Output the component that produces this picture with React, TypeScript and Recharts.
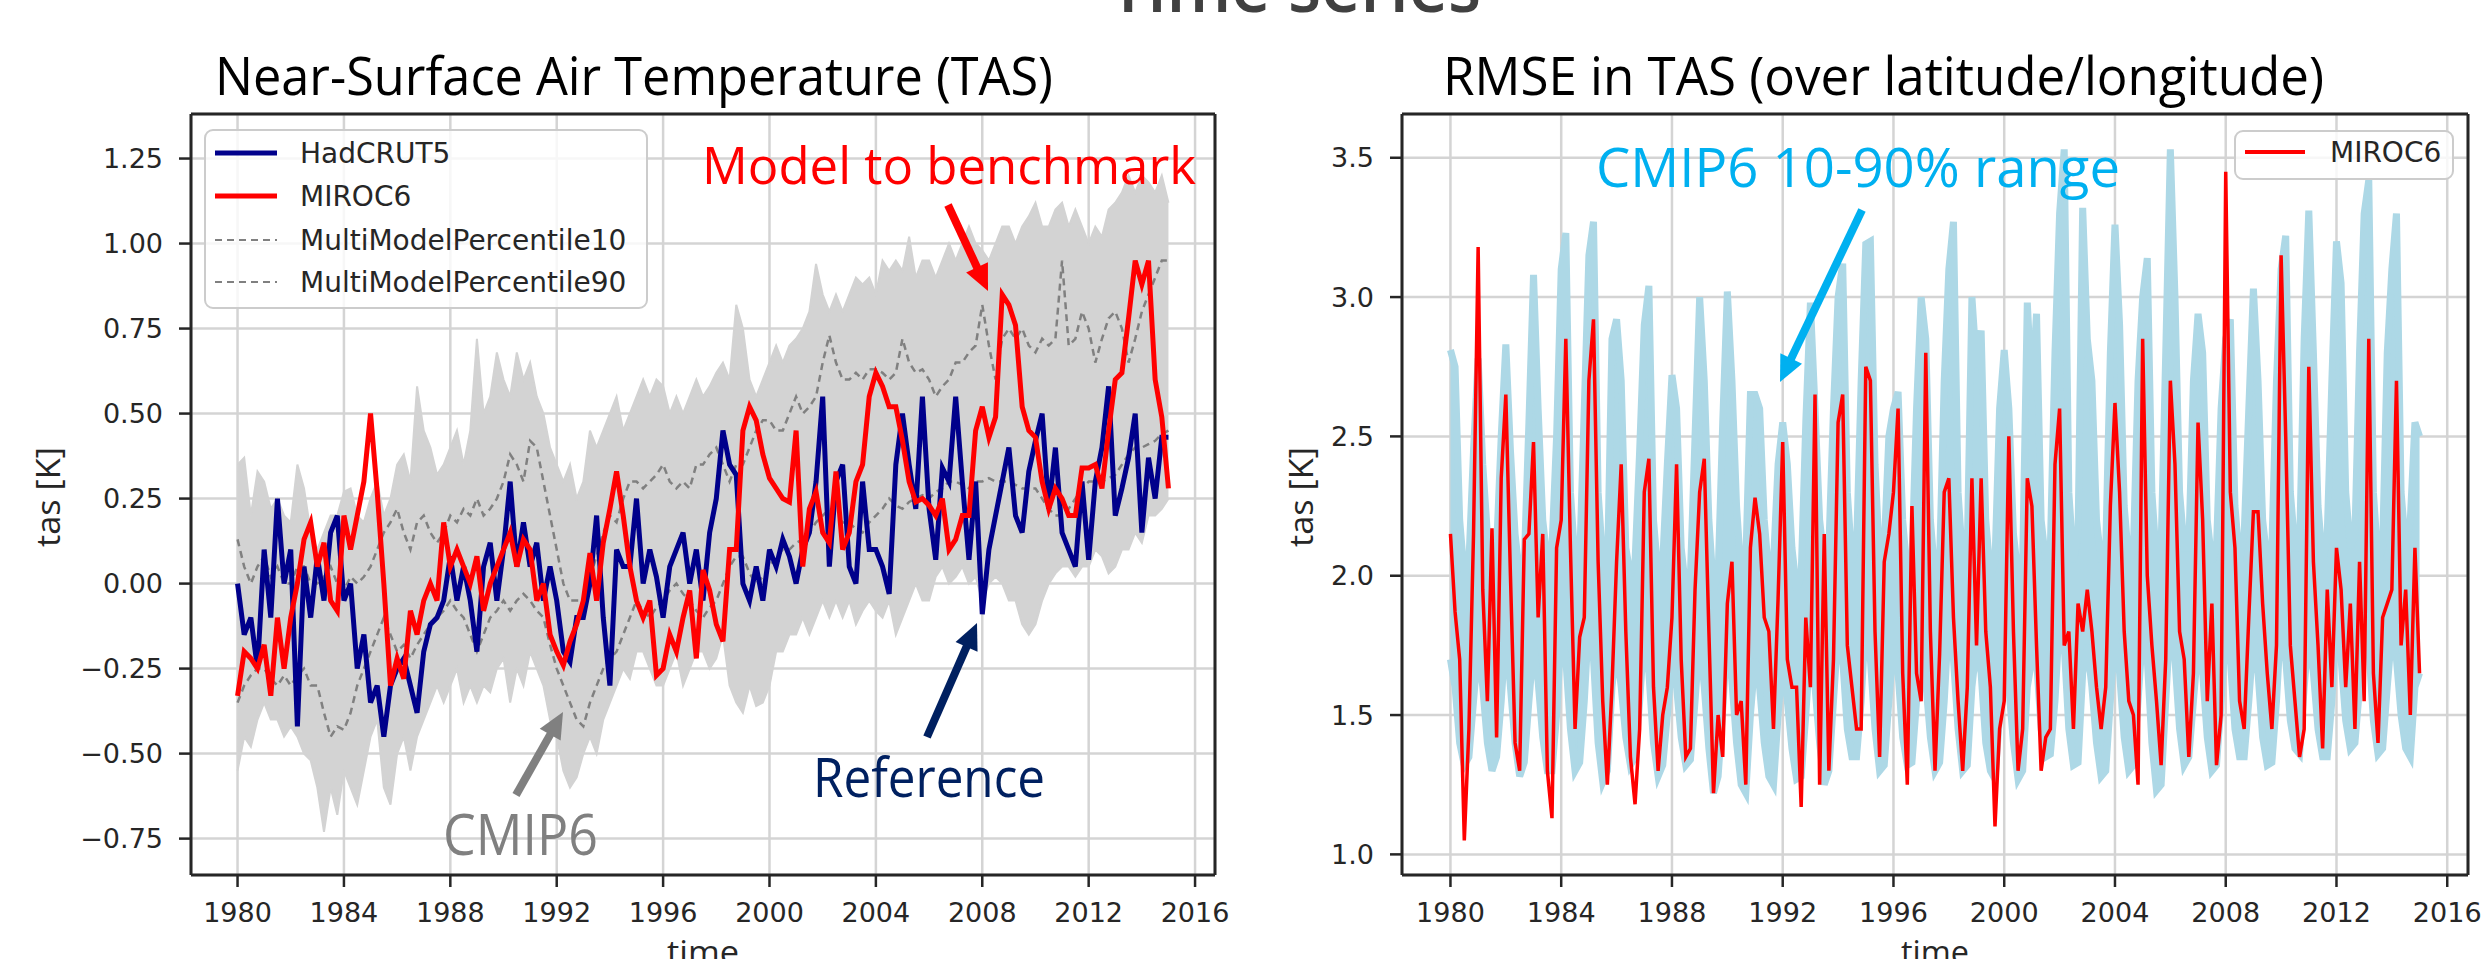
import { Area, CartesianGrid, ComposedChart, Line, ReferenceLine, XAxis, YAxis } from 'recharts'

// quarterly values, 1980.00 ... 2015.00
const hadcrut5 = [
  0.0, -0.15, -0.1, -0.25,
  0.1, -0.1, 0.25, 0.0,
  0.1, -0.42, 0.05, -0.1,
  0.08, -0.05, 0.15, 0.2,
  -0.05, 0.0, -0.25, -0.15,
  -0.35, -0.3, -0.45, -0.3,
  -0.25, -0.22, -0.3, -0.38,
  -0.2, -0.12, -0.1, -0.05,
  0.08, -0.05, 0.05, -0.05,
  -0.2, 0.05, 0.12, -0.05,
  0.1, 0.3, 0.05, 0.18,
  0.05, 0.12, -0.05, 0.05,
  -0.05, -0.2, -0.23, -0.1,
  -0.1, 0.0, 0.2, -0.1,
  -0.3, 0.1, 0.05, 0.05,
  0.25, 0.0, 0.1, 0.02,
  -0.1, 0.05, 0.1, 0.15,
  0.0, 0.1, -0.05, 0.15,
  0.25, 0.45, 0.35, 0.32,
  0.0, -0.05, 0.05, -0.05,
  0.1, 0.05, 0.13, 0.08,
  0.0, 0.1, 0.15, 0.3,
  0.55, 0.05, 0.3, 0.35,
  0.05, 0.0, 0.3, 0.1,
  0.1, 0.05, -0.03, 0.35,
  0.5, 0.35, 0.22, 0.55,
  0.22, 0.07, 0.34, 0.3,
  0.55, 0.3, 0.07, 0.3,
  -0.09, 0.1, 0.2, 0.3,
  0.4, 0.2, 0.15, 0.33,
  0.42, 0.5, 0.22, 0.4,
  0.15, 0.1, 0.05, 0.3,
  0.07, 0.3, 0.4, 0.58,
  0.2, 0.28, 0.37, 0.5,
  0.15, 0.37, 0.25, 0.43,
  0.43,
]

const miroc6Tas = [
  -0.33, -0.2, -0.22, -0.25,
  -0.18, -0.33, -0.1, -0.25,
  -0.1, 0.0, 0.13, 0.18,
  0.05, 0.12, -0.05, -0.08,
  0.2, 0.1, 0.2, 0.3,
  0.5, 0.27, 0.0, -0.3,
  -0.22, -0.28, -0.08, -0.15,
  -0.05, 0.0, -0.05, 0.18,
  0.05, 0.1, 0.05, 0.0,
  0.08, -0.08, 0.0, 0.05,
  0.1, 0.15, 0.05, 0.13,
  0.1, -0.05, 0.0, -0.15,
  -0.2, -0.24, -0.17, -0.12,
  -0.05, 0.09, -0.05, 0.12,
  0.22, 0.33, 0.2, 0.05,
  -0.05, -0.1, -0.05, -0.27,
  -0.25, -0.15, -0.2, -0.1,
  -0.02, -0.22, 0.04, -0.02,
  -0.12, -0.17, 0.1, 0.1,
  0.45, 0.52, 0.48, 0.38,
  0.31, 0.28, 0.25, 0.24,
  0.45, 0.05, 0.22, 0.27,
  0.15, 0.12, 0.33, 0.1,
  0.15, 0.3, 0.35, 0.55,
  0.62, 0.58, 0.52, 0.52,
  0.42, 0.3, 0.24, 0.25,
  0.23, 0.2, 0.25, 0.1,
  0.13, 0.2, 0.2, 0.45,
  0.52, 0.43, 0.49, 0.85,
  0.82, 0.76, 0.52, 0.45,
  0.43, 0.3, 0.22, 0.28,
  0.25, 0.2, 0.2, 0.34,
  0.34, 0.35, 0.28, 0.45,
  0.6, 0.62, 0.78, 0.95,
  0.88, 0.95, 0.6, 0.49,
  0.28,
]

const percentile10 = [
  -0.35, -0.3, -0.27, -0.25,
  -0.25, -0.28, -0.3, -0.27,
  -0.3, -0.27, -0.25, -0.3,
  -0.3, -0.38, -0.45, -0.42,
  -0.43, -0.38, -0.3, -0.25,
  -0.2, -0.15, -0.1, -0.15,
  -0.2, -0.18, -0.22, -0.18,
  -0.15, -0.12, -0.1, -0.08,
  -0.05, -0.08, -0.1, -0.15,
  -0.2, -0.15, -0.1, -0.08,
  -0.05, -0.08, -0.05, -0.03,
  -0.05, -0.08, -0.1, -0.18,
  -0.25, -0.3, -0.35, -0.4,
  -0.42, -0.35, -0.3, -0.25,
  -0.22, -0.2, -0.15, -0.1,
  -0.05, -0.08, -0.1, -0.07,
  -0.05, -0.02, 0.0, -0.03,
  -0.05, -0.08, -0.1, -0.07,
  -0.05, 0.0, 0.05, 0.08,
  0.08, 0.03, 0.0, 0.02,
  0.05, 0.08, 0.1, 0.1,
  0.12, 0.13, 0.15, 0.18,
  0.2, 0.22, 0.2, 0.18,
  0.18, 0.16, 0.15, 0.18,
  0.2, 0.22, 0.25, 0.23,
  0.22, 0.24, 0.25, 0.26,
  0.25, 0.27, 0.28, 0.3,
  0.3, 0.29, 0.28, 0.3,
  0.3, 0.31, 0.3, 0.3,
  0.3, 0.29, 0.28, 0.28,
  0.28, 0.25, 0.22, 0.2,
  0.2, 0.22, 0.25, 0.28,
  0.3, 0.3, 0.3, 0.31,
  0.32, 0.35, 0.38, 0.4,
  0.4, 0.41, 0.42, 0.44,
  0.45,
]

const percentile90 = [
  0.13, 0.05, 0.0, 0.05,
  0.08, 0.02, 0.05, 0.0,
  0.0, 0.05, 0.05, 0.0,
  0.0, 0.02, 0.05, 0.0,
  -0.02, 0.02, 0.0, 0.02,
  0.05, 0.1, 0.15, 0.18,
  0.22, 0.15, 0.1, 0.18,
  0.2, 0.15, 0.12, 0.15,
  0.2, 0.18, 0.22, 0.2,
  0.25, 0.2, 0.22, 0.25,
  0.3, 0.38, 0.35, 0.3,
  0.42, 0.4, 0.3, 0.2,
  0.1, 0.0, -0.05, -0.05,
  -0.05, 0.02, 0.08, 0.15,
  0.2, 0.18, 0.25, 0.3,
  0.3, 0.28, 0.3, 0.32,
  0.35, 0.3, 0.28, 0.3,
  0.28, 0.35, 0.35, 0.38,
  0.4, 0.35, 0.3, 0.35,
  0.35, 0.4, 0.45, 0.48,
  0.48, 0.45, 0.45, 0.5,
  0.55, 0.5, 0.52, 0.55,
  0.65, 0.73, 0.65, 0.6,
  0.6, 0.62, 0.6, 0.63,
  0.63, 0.62, 0.6, 0.62,
  0.72, 0.65, 0.62, 0.63,
  0.6, 0.55, 0.58, 0.6,
  0.65, 0.65, 0.68, 0.7,
  0.82, 0.7, 0.6, 0.72,
  0.75, 0.72, 0.75, 0.7,
  0.68, 0.72, 0.7, 0.72,
  0.95, 0.7, 0.72, 0.8,
  0.75, 0.65, 0.72, 0.78,
  0.8, 0.75, 0.65, 0.72,
  0.8, 0.85, 0.9, 0.95,
  0.95,
]

// spread of the individual CMIP6 members (grey band)
const ensembleLow = [
  -0.55, -0.45, -0.48, -0.4,
  -0.35, -0.4, -0.4, -0.45,
  -0.42, -0.45, -0.5, -0.52,
  -0.6, -0.73, -0.6, -0.68,
  -0.55, -0.6, -0.65, -0.55,
  -0.45, -0.4, -0.6, -0.65,
  -0.5, -0.45, -0.55, -0.45,
  -0.4, -0.35, -0.3, -0.35,
  -0.3, -0.25, -0.35, -0.3,
  -0.35, -0.3, -0.32, -0.25,
  -0.22, -0.35, -0.25, -0.3,
  -0.2, -0.25, -0.3, -0.4,
  -0.45, -0.55, -0.6, -0.57,
  -0.5, -0.45, -0.5, -0.4,
  -0.35, -0.3, -0.25, -0.28,
  -0.2, -0.2, -0.25, -0.3,
  -0.3, -0.25, -0.2, -0.3,
  -0.25, -0.2, -0.2, -0.25,
  -0.22, -0.15, -0.3, -0.35,
  -0.38, -0.3, -0.36, -0.35,
  -0.3, -0.2, -0.2, -0.15,
  -0.15, -0.1, -0.15, -0.1,
  -0.05, -0.1, -0.05, -0.1,
  -0.05, -0.12, -0.08, -0.05,
  -0.08, -0.1, -0.05, -0.15,
  -0.1, -0.05, 0.0, -0.05,
  -0.05, 0.02, 0.05, 0.0,
  0.02, 0.05, 0.0, 0.02,
  -0.05, 0.0, 0.02, 0.0,
  -0.05, -0.05, -0.12, -0.15,
  -0.12, -0.05, 0.0, 0.03,
  0.05, 0.05, 0.02, 0.05,
  0.05, 0.1, 0.08, 0.03,
  0.05, 0.1, 0.1, 0.15,
  0.12, 0.2, 0.2, 0.22,
  0.25,
]

const ensembleHigh = [
  0.35, 0.37, 0.2, 0.33,
  0.3, 0.22, 0.25, 0.2,
  0.18, 0.35, 0.28, 0.15,
  0.1, 0.15, 0.2, 0.2,
  0.27, 0.28, 0.2, 0.18,
  0.25, 0.3, 0.2, 0.25,
  0.35, 0.38, 0.3, 0.58,
  0.45, 0.4, 0.32, 0.35,
  0.4, 0.45, 0.35, 0.45,
  0.72, 0.5, 0.55, 0.68,
  0.6, 0.55, 0.68, 0.6,
  0.65, 0.55, 0.5, 0.4,
  0.35, 0.3, 0.35, 0.25,
  0.3, 0.45, 0.4, 0.45,
  0.5, 0.55, 0.45, 0.5,
  0.55, 0.6, 0.55, 0.6,
  0.58, 0.5, 0.55, 0.5,
  0.55, 0.6, 0.55, 0.58,
  0.62, 0.65, 0.6, 0.82,
  0.75, 0.6, 0.55, 0.6,
  0.65, 0.7, 0.65, 0.7,
  0.72, 0.75, 0.8, 0.94,
  0.85, 0.8, 0.85, 0.8,
  0.85, 0.9, 0.88, 0.9,
  0.85, 0.95, 0.92, 0.95,
  0.92, 1.02, 0.9, 0.95,
  0.95, 0.9, 0.95, 1.0,
  0.95, 1.0, 1.05, 1.0,
  0.98, 0.95, 1.0, 1.05,
  1.05, 1.0, 1.05, 1.08,
  1.12, 1.05, 1.05, 1.1,
  1.12, 1.05, 1.1, 1.05,
  1.0, 1.05, 1.02, 1.1,
  1.12, 1.15, 1.2, 1.15,
  1.2, 1.18, 1.15, 1.2,
  1.12,
]

// bimonthly values, 1980.00 ... 2015.00
const miroc6Rmse = [
  2.15, 1.87, 1.7, 1.05, 1.45, 2.15,
  3.18, 1.95, 1.55, 2.17, 1.42, 2.35,
  2.65, 2.0, 1.4, 1.3, 2.13, 2.15,
  2.48, 1.85, 2.15, 1.3, 1.13, 2.1,
  2.2, 2.85, 2.1, 1.45, 1.78, 1.85,
  2.7, 2.92, 2.05, 1.55, 1.25, 1.6,
  2.05, 2.4, 1.8, 1.35, 1.18, 1.45,
  2.3, 2.42, 1.6, 1.3, 1.5, 1.6,
  1.85, 2.4, 1.7, 1.35, 1.38, 1.95,
  2.3, 2.42, 1.8, 1.22, 1.5, 1.35,
  1.9, 2.05, 1.5, 1.55, 1.25, 2.1,
  2.28, 2.15, 1.85, 1.8, 1.45, 1.92,
  2.48, 1.7, 1.6, 1.6, 1.17, 1.85,
  1.6, 2.65, 1.25, 2.15, 1.3, 1.7,
  2.55, 2.65, 1.75, 1.6, 1.45, 1.45,
  2.75, 2.7, 1.8, 1.35, 2.05, 2.15,
  2.3, 2.6, 1.65, 1.25, 2.25, 1.65,
  1.55, 2.8, 1.8, 1.3, 1.72, 2.3,
  2.35, 1.85, 1.55, 1.3, 1.6, 2.35,
  1.75, 2.35, 1.8, 1.6, 1.1, 1.45,
  1.55, 2.5, 1.8, 1.3, 1.45, 2.35,
  2.25, 1.75, 1.3, 1.42, 1.45, 2.4,
  2.6, 1.75, 1.8, 1.45, 1.9, 1.8,
  1.95, 1.8, 1.6, 1.45, 1.6, 2.25,
  2.62, 2.3, 1.8, 1.55, 1.5, 1.25,
  2.85, 2.0, 1.75, 1.55, 1.32, 1.7,
  2.7, 2.4, 1.8, 1.7, 1.35, 1.65,
  2.55, 2.2, 1.55, 1.9, 1.32, 1.5,
  3.45, 2.3, 2.1, 1.55, 1.45, 1.85,
  2.23, 2.23, 1.9, 1.65, 1.45, 1.75,
  3.15, 2.5, 1.75, 1.55, 1.35, 1.45,
  2.75, 2.05, 1.75, 1.38, 1.95, 1.6,
  2.1, 1.95, 1.6, 1.9, 1.45, 2.05,
  1.55, 2.85, 1.65, 1.4, 1.85, 1.9,
  1.95, 2.7, 1.75, 1.95, 1.5, 2.1,
  1.65,
]

const cmipRmseLow = [
  1.7, 1.6, 1.4, 1.32, 1.35, 1.55,
  1.75, 1.6, 1.4, 1.3, 1.35, 1.55,
  1.8, 1.6, 1.4, 1.28, 1.33, 1.55,
  1.75, 1.62, 1.42, 1.3, 1.3, 1.5,
  1.8, 1.7, 1.45, 1.3, 1.33, 1.55,
  1.85, 1.7, 1.4, 1.26, 1.3, 1.6,
  1.75, 1.6, 1.42, 1.32, 1.35, 1.55,
  1.8, 1.65, 1.4, 1.28, 1.32, 1.5,
  1.7, 1.6, 1.42, 1.32, 1.34, 1.55,
  1.78, 1.6, 1.38, 1.22, 1.28, 1.52,
  1.8, 1.62, 1.4, 1.25, 1.22, 1.5,
  1.7, 1.6, 1.4, 1.28, 1.25, 1.5,
  1.7, 1.55, 1.38, 1.27, 1.28, 1.5,
  1.75, 1.6, 1.4, 1.25, 1.3, 1.55,
  1.8, 1.7, 1.45, 1.35, 1.35, 1.55,
  1.85, 1.7, 1.45, 1.3, 1.32, 1.55,
  1.75, 1.65, 1.42, 1.32, 1.33, 1.55,
  1.8, 1.62, 1.42, 1.3, 1.33, 1.55,
  1.85, 1.7, 1.45, 1.3, 1.32, 1.6,
  1.75, 1.65, 1.4, 1.3, 1.27, 1.5,
  1.75, 1.6, 1.4, 1.27, 1.3, 1.6,
  1.7, 1.7, 1.45, 1.35, 1.36, 1.55,
  1.85, 1.75, 1.45, 1.32, 1.33, 1.65,
  1.75, 1.6, 1.4, 1.28, 1.3, 1.55,
  1.8, 1.65, 1.42, 1.3, 1.32, 1.55,
  1.8, 1.7, 1.4, 1.23, 1.25, 1.55,
  1.85, 1.7, 1.45, 1.32, 1.35, 1.55,
  1.75, 1.65, 1.42, 1.3, 1.32, 1.55,
  1.8, 1.7, 1.45, 1.35, 1.35, 1.55,
  1.78, 1.65, 1.42, 1.32, 1.33, 1.55,
  1.85, 1.7, 1.48, 1.38, 1.36, 1.6,
  1.8, 1.65, 1.45, 1.35, 1.35, 1.55,
  1.85, 1.7, 1.48, 1.38, 1.4, 1.6,
  1.85, 1.75, 1.48, 1.36, 1.38, 1.6,
  1.8, 1.7, 1.5, 1.38, 1.35, 1.6,
  1.65,
]

const cmipRmseHigh = [
  2.81, 2.75, 2.2, 2.0, 2.05, 2.45,
  2.78, 2.4, 2.15, 2.0, 2.1, 2.5,
  2.83, 2.45, 2.15, 2.0, 2.05, 2.55,
  3.08, 2.6, 2.2, 2.05, 2.1, 2.5,
  3.1, 3.23, 2.3, 2.05, 2.05, 2.6,
  3.15, 3.27, 2.3, 2.05, 2.0, 2.85,
  2.92, 2.7, 2.1, 2.0, 2.05, 2.45,
  2.9, 3.04, 2.2, 2.0, 2.05, 2.4,
  2.72, 2.6, 2.1, 1.95, 2.0, 2.5,
  3.0, 2.7, 2.2, 1.95, 2.0, 2.55,
  3.02, 2.7, 2.25, 2.0, 2.05, 2.65,
  2.65, 2.6, 2.2, 2.0, 2.05, 2.4,
  2.55, 2.4, 2.1, 1.95, 2.0, 2.55,
  2.98, 2.6, 2.2, 2.05, 2.1, 2.6,
  3.0, 3.12, 2.3, 2.05, 2.1, 2.7,
  3.19, 3.2, 2.4, 2.05, 2.1, 2.5,
  2.6, 2.66, 2.2, 2.0, 2.05, 2.6,
  3.0, 2.85, 2.2, 2.0, 2.05, 2.7,
  3.1, 3.27, 2.3, 2.05, 2.1, 3.0,
  2.75, 2.88, 2.2, 2.0, 2.05, 2.6,
  2.81, 2.6, 2.15, 2.0, 2.05, 2.98,
  2.65, 2.94, 2.2, 2.05, 2.1, 2.8,
  3.3, 3.53, 2.3, 2.05, 2.15, 3.32,
  2.85, 2.7, 2.2, 2.05, 2.1, 2.8,
  3.26, 2.9, 2.25, 2.05, 2.1, 2.7,
  3.0, 3.14, 2.3, 2.05, 2.1, 2.8,
  3.53, 3.0, 2.3, 2.1, 2.1, 2.7,
  2.94, 2.8, 2.2, 2.05, 2.1, 2.6,
  2.85, 2.92, 2.25, 2.05, 2.15, 2.6,
  3.03, 2.7, 2.2, 2.05, 2.1, 2.7,
  3.1, 3.22, 2.3, 2.1, 2.1, 2.85,
  3.31, 2.8, 2.25, 2.05, 2.15, 2.7,
  3.2, 3.05, 2.3, 2.1, 2.15, 2.8,
  3.3, 3.42, 2.3, 2.05, 2.1, 2.8,
  3.1, 3.3, 2.3, 2.1, 2.2, 2.55,
  2.5,
]

const yearTicks = [1980, 1984, 1988, 1992, 1996, 2000, 2004, 2008, 2012, 2016]
const tasTicks = [-0.75, -0.5, -0.25, 0, 0.25, 0.5, 0.75, 1, 1.25]
const rmseTicks = [1, 1.5, 2, 2.5, 3, 3.5]

const tasRows = hadcrut5.map((v, i) => ({
  t: 1980 + i / 4,
  hadcrut5: v,
  miroc6: miroc6Tas[i],
  p10: percentile10[i],
  p90: percentile90[i],
  ensemble: [ensembleLow[i], ensembleHigh[i]],
}))

const rmseRows = miroc6Rmse.map((v, i) => ({
  t: 1980 + i / 6,
  miroc6: v,
  range: [cmipRmseLow[i], cmipRmseHigh[i]],
}))

const timeDomain = [1978.25, 2016.75]
const tasDomain = [-0.857, 1.381]
const rmseDomain = [0.926, 3.657]

const ink = '#262626'
const tickStyle = { fontFamily: 'DejaVu Sans, sans-serif', fontSize: 27, fill: ink }
const tickLine = { stroke: ink, strokeWidth: 2.5 }
const axisLine = { stroke: ink, strokeWidth: 3 }
const slideFont = '"Open Sans", "Noto Sans", sans-serif'
const legendFont = 'DejaVu Sans, sans-serif'

const fmtTas = (v: number) => (v < 0 ? '\u2212' : '') + Math.abs(v).toFixed(2)
const fmtRmse = (v: number) => v.toFixed(1)

const Arrow = ({ from, to, color }: { from: number[]; to: number[]; color: string }) => {
  const [x1, y1] = from
  const [x2, y2] = to
  const len = Math.hypot(x2 - x1, y2 - y1)
  const ux = (x2 - x1) / len
  const uy = (y2 - y1) / len
  const bx = x2 - ux * 26
  const by = y2 - uy * 26
  const half = 12
  return (
    <g>
      <line x1={x1} y1={y1} x2={bx + ux * 2} y2={by + uy * 2} stroke={color} strokeWidth={8} />
      <polygon
        points={`${x2},${y2} ${bx - uy * half},${by + ux * half} ${bx + uy * half},${by - ux * half}`}
        fill={color}
      />
    </g>
  )
}

const TasChart = () => (
  <ComposedChart
    width={1250}
    height={959}
    data={tasRows}
    margin={{ top: 114, right: 35, bottom: 24, left: 111 }}
  >
    <CartesianGrid stroke={'#d4d4d4'} strokeWidth={2.5} />
    <XAxis
      dataKey={'t'}
      type={'number'}
      domain={timeDomain}
      allowDataOverflow
      ticks={yearTicks}
      interval={0}
      height={60}
      tickSize={12}
      tickMargin={16}
      tick={tickStyle}
      tickLine={tickLine}
      axisLine={axisLine}
    />
    <YAxis
      type={'number'}
      domain={tasDomain}
      allowDataOverflow
      ticks={tasTicks}
      interval={0}
      width={80}
      tickSize={12}
      tickMargin={16}
      tick={tickStyle}
      tickLine={tickLine}
      axisLine={axisLine}
      tickFormatter={fmtTas}
    />
    <Area
      dataKey={'ensemble'}
      type={'linear'}
      fill={'#d3d3d3'}
      fillOpacity={1}
      stroke={'#d3d3d3'}
      strokeWidth={2}
      isAnimationActive={false}
    />
    <Line dataKey={'p10'} type={'linear'} stroke={'#808080'} strokeWidth={2.5} strokeDasharray={'7 5'} dot={false} isAnimationActive={false} />
    <Line dataKey={'p90'} type={'linear'} stroke={'#808080'} strokeWidth={2.5} strokeDasharray={'7 5'} dot={false} isAnimationActive={false} />
    <Line dataKey={'hadcrut5'} type={'linear'} stroke={'#00008b'} strokeWidth={5} dot={false} isAnimationActive={false} />
    <Line dataKey={'miroc6'} type={'linear'} stroke={'#ff0000'} strokeWidth={5} dot={false} isAnimationActive={false} />
    <ReferenceLine y={tasDomain[1]} stroke={ink} strokeWidth={3} />
    <ReferenceLine x={timeDomain[1]} stroke={ink} strokeWidth={3} />
  </ComposedChart>
)

const RmseChart = () => (
  <ComposedChart
    width={1234}
    height={959}
    data={rmseRows}
    margin={{ top: 114, right: 16, bottom: 24, left: 72 }}
  >
    <CartesianGrid stroke={'#d4d4d4'} strokeWidth={2.5} />
    <XAxis
      dataKey={'t'}
      type={'number'}
      domain={timeDomain}
      allowDataOverflow
      ticks={yearTicks}
      interval={0}
      height={60}
      tickSize={12}
      tickMargin={16}
      tick={tickStyle}
      tickLine={tickLine}
      axisLine={axisLine}
    />
    <YAxis
      type={'number'}
      domain={rmseDomain}
      allowDataOverflow
      ticks={rmseTicks}
      interval={0}
      width={80}
      tickSize={12}
      tickMargin={16}
      tick={tickStyle}
      tickLine={tickLine}
      axisLine={axisLine}
      tickFormatter={fmtRmse}
    />
    <Area
      dataKey={'range'}
      type={'linear'}
      fill={'#add8e6'}
      fillOpacity={1}
      stroke={'#add8e6'}
      strokeWidth={7}
      isAnimationActive={false}
    />
    <Line dataKey={'miroc6'} type={'linear'} stroke={'#ff0000'} strokeWidth={3.5} dot={false} isAnimationActive={false} />
    <ReferenceLine y={rmseDomain[1]} stroke={ink} strokeWidth={3} />
    <ReferenceLine x={timeDomain[1]} stroke={ink} strokeWidth={3} />
  </ComposedChart>
)

const Overlay = () => (
  <svg width={2484} height={959} style={{ position: 'absolute', left: 0, top: 0, pointerEvents: 'none' }}>
    <text x={1295} y={12} textAnchor={'middle'} fontFamily={slideFont} fontSize={72} fontWeight={600} fill={'#404040'} textLength={372} lengthAdjust={'spacingAndGlyphs'}>
      Time series
    </text>
    <text x={215} y={95} fontFamily={slideFont} fontSize={53} fill={'#000'} textLength={838} lengthAdjust={'spacingAndGlyphs'}>
      Near-Surface Air Temperature (TAS)
    </text>
    <text x={1443} y={95} fontFamily={slideFont} fontSize={53} fill={'#000'} textLength={881} lengthAdjust={'spacingAndGlyphs'}>
      RMSE in TAS (over latitude/longitude)
    </text>

    <text x={60} y={497} transform={'rotate(-90 60 497)'} textAnchor={'middle'} fontFamily={slideFont} fontSize={32} fill={ink} textLength={100} lengthAdjust={'spacingAndGlyphs'}>
      tas [K]
    </text>
    <text x={1313} y={497} transform={'rotate(-90 1313 497)'} textAnchor={'middle'} fontFamily={slideFont} fontSize={32} fill={ink} textLength={100} lengthAdjust={'spacingAndGlyphs'}>
      tas [K]
    </text>
    <text x={703} y={964} textAnchor={'middle'} fontFamily={slideFont} fontSize={32} fill={ink} textLength={72} lengthAdjust={'spacingAndGlyphs'}>
      time
    </text>
    <text x={1935} y={964} textAnchor={'middle'} fontFamily={slideFont} fontSize={32} fill={ink} textLength={68} lengthAdjust={'spacingAndGlyphs'}>
      time
    </text>

    <g>
      <rect x={205} y={130} width={442} height={178} rx={8} fill={'#fff'} fillOpacity={0.8} stroke={'#cccccc'} strokeWidth={2} />
      <line x1={215} y1={153} x2={277} y2={153} stroke={'#00008b'} strokeWidth={5} />
      <line x1={215} y1={196} x2={277} y2={196} stroke={'#ff0000'} strokeWidth={5} />
      <line x1={215} y1={240} x2={277} y2={240} stroke={'#808080'} strokeWidth={2} strokeDasharray={'7 5'} />
      <line x1={215} y1={282} x2={277} y2={282} stroke={'#808080'} strokeWidth={2} strokeDasharray={'7 5'} />
      {['HadCRUT5', 'MIROC6', 'MultiModelPercentile10', 'MultiModelPercentile90'].map((s, i) => (
        <text key={s} x={300} y={[153, 196, 240, 282][i]} dominantBaseline={'central'} fontFamily={legendFont} fontSize={28} fill={ink}>
          {s}
        </text>
      ))}
    </g>
    <g>
      <rect x={2235} y={131} width={218} height={48} rx={8} fill={'#fff'} fillOpacity={0.8} stroke={'#cccccc'} strokeWidth={2} />
      <line x1={2245} y1={152} x2={2305} y2={152} stroke={'#ff0000'} strokeWidth={4} />
      <text x={2330} y={152} dominantBaseline={'central'} fontFamily={legendFont} fontSize={28} fill={ink}>
        MIROC6
      </text>
    </g>

    <text x={702} y={184} fontFamily={slideFont} fontSize={52} fill={'#ff0000'} textLength={494} lengthAdjust={'spacingAndGlyphs'}>
      Model to benchmark
    </text>
    <Arrow from={[948, 205]} to={[988, 291]} color={'#ff0000'} />
    <text x={813} y={797} fontFamily={slideFont} fontSize={54} fill={'#002060'} textLength={232} lengthAdjust={'spacingAndGlyphs'}>
      Reference
    </text>
    <Arrow from={[927, 737]} to={[977, 623]} color={'#002060'} />
    <text x={443} y={855} fontFamily={slideFont} fontSize={56} fill={'#808080'} textLength={155} lengthAdjust={'spacingAndGlyphs'}>
      CMIP6
    </text>
    <Arrow from={[516, 795]} to={[563, 712]} color={'#808080'} />
    <text x={1596} y={187} fontFamily={slideFont} fontSize={54} fill={'#00b0f0'} textLength={524} lengthAdjust={'spacingAndGlyphs'}>
      CMIP6 10-90% range
    </text>
    <Arrow from={[1862, 210]} to={[1780, 382]} color={'#00b0f0'} />
  </svg>
)

export default function App() {
  return (
    <div style={{ position: 'relative', width: 2484, height: 959, background: '#fff', overflow: 'hidden' }}>
      <style>{'body{margin:0}'}</style>
      <div style={{ position: 'absolute', left: 0, top: 0 }}>
        <TasChart />
      </div>
      <div style={{ position: 'absolute', left: 1250, top: 0 }}>
        <RmseChart />
      </div>
      <Overlay />
    </div>
  )
}
